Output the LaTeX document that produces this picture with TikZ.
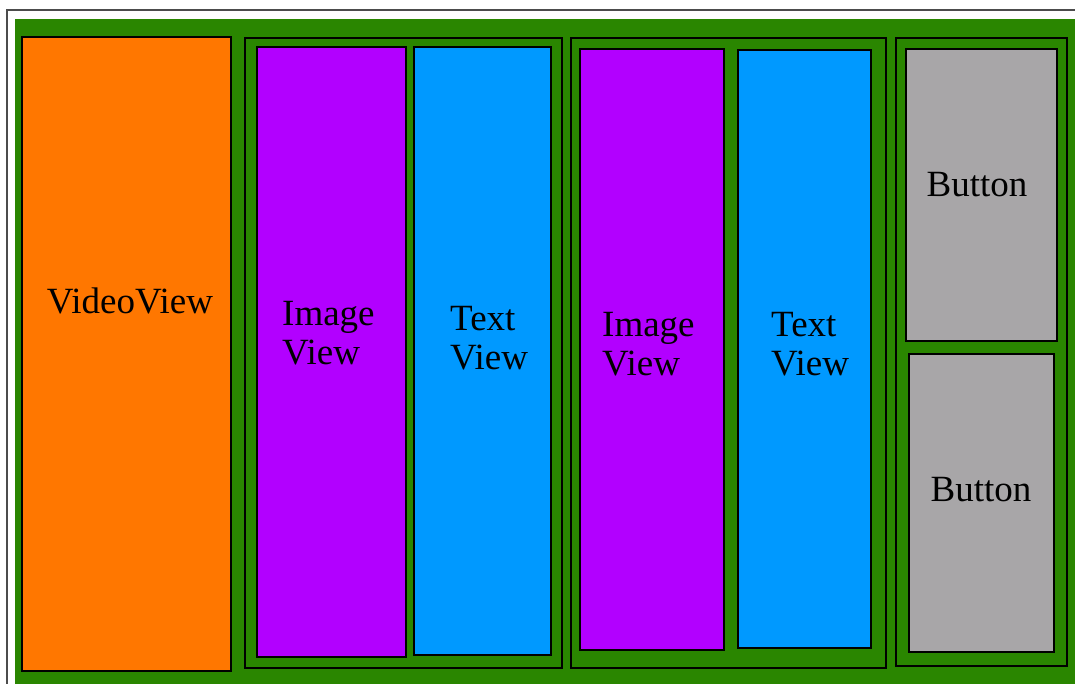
\documentclass[tikz,border=0pt]{standalone}
\usepackage{fontspec}
\setmainfont{Liberation Serif}
\usepackage{tikz}
\definecolor{layoutgreen}{RGB}{42,134,0}
\definecolor{videoorange}{RGB}{255,119,0}
\definecolor{imagepurple}{RGB}{178,0,255}
\definecolor{textblue}{RGB}{0,153,255}
\definecolor{buttongray}{RGB}{168,166,168}
\tikzset{
  frame/.style={draw=black!70,line width=1.5pt},
  group/.style={draw=black,line width=2.6pt,fill=layoutgreen},
  view/.style={draw=black,line width=2.6pt},
  caption/.style={inner sep=0pt,align=left,font=\fontsize{37}{39}\selectfont}
}

\begin{document}
\begin{tikzpicture}[x=1pt,y=-1pt]
\useasboundingbox (0,0) rectangle (1075,684);
\fill[white] (0,0) rectangle (1075,684);
\draw[frame] (7,684) -- (7,10) -- (1075,10);
\fill[layoutgreen] (15,19) rectangle (1075,684);
% video
\draw[view,fill=videoorange] (22,37) rectangle (231,671);
\node[caption] (video) at (130,301) {VideoView};
% first image + text pair
\draw[group] (245,38) rectangle (562,668);
\draw[view,fill=imagepurple] (257,47) rectangle (406,657);
\draw[view,fill=textblue] (414,47) rectangle (551,655);
\node[caption,anchor=west] (imagea) at (282,333) {Image\\View};
\node[caption,anchor=west] (texta) at (450,338) {Text\\View};
% second image + text pair
\draw[group] (571,38) rectangle (886,668);
\draw[view,fill=imagepurple] (580,49) rectangle (724,650);
\draw[view,fill=textblue] (738,50) rectangle (871,648);
\node[caption,anchor=west] (imageb) at (602,344) {Image\\View};
\node[caption,anchor=west] (textb) at (771,344) {Text\\View};
% buttons
\draw[group] (896,38) rectangle (1067,666);
\draw[view,fill=buttongray] (906,49) rectangle (1057,341);
\draw[view,fill=buttongray] (909,354) rectangle (1054,652);
\node[caption] (buttona) at (977,185) {Button};
\node[caption] (buttonb) at (981,490) {Button};
\end{tikzpicture}
\end{document}
